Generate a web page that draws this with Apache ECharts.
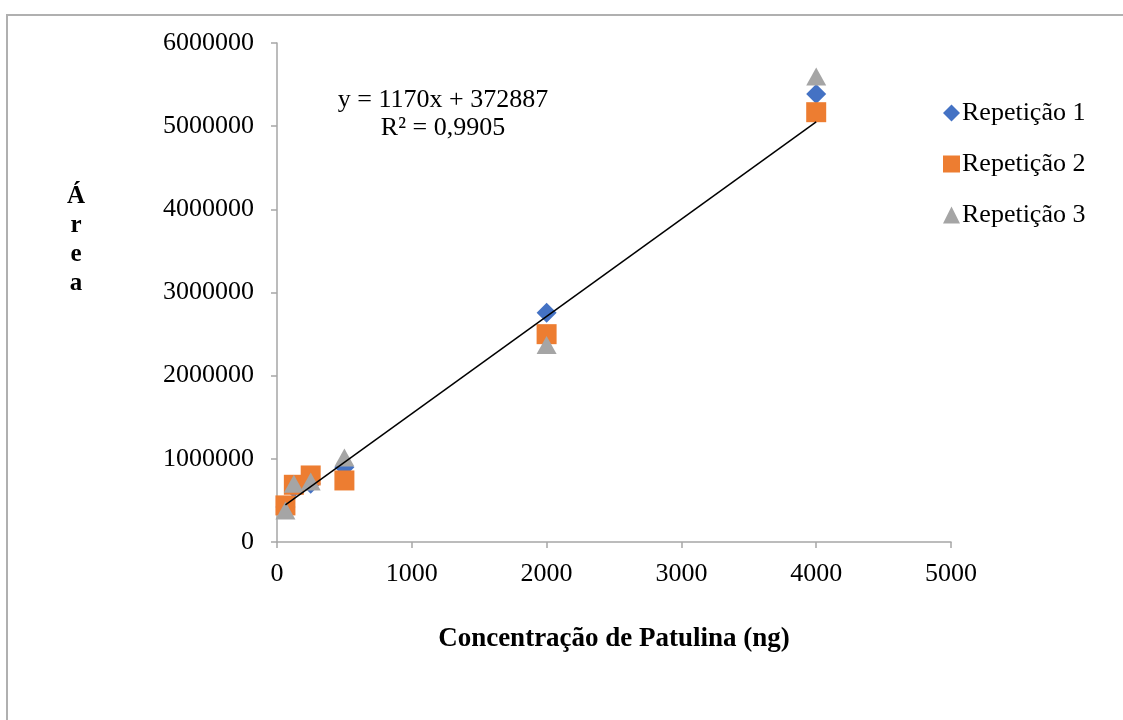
<!DOCTYPE html>
<html>
<head>
<meta charset="utf-8">
<script src="https://cdn.jsdelivr.net/npm/echarts@6/dist/echarts.min.js"></script>
<style>
  html, body { margin: 0; padding: 0; background: #fff; }
  #chart { width: 1123px; height: 720px; }
</style>
</head>
<body>
<div id="chart"></div>
<script>
// concentrations (ng) and areas for each repetition
const conc = [62.5, 125, 250, 500, 2000, 4000];
const rep1 = [420000, 650000, 700000, 900000, 2758000, 5388000];
const rep2 = [440000, 688000, 800000, 740000, 2499000, 5168000];
const rep3 = [380000, 700000, 728000, 1015000, 2370000, 5596000];
const seriesNames = ['Repetição 1', 'Repetição 2', 'Repetição 3'];
// linear trendline as printed on the chart
const slope = 1170;
const intercept = 372887;
const r2Text = 'R² = 0,9905';

const font = 'Liberation Serif, Times New Roman, serif';
const myChart = echarts.init(document.getElementById('chart'));

const pairs = arr => conc.map((c, i) => [c, arr[i]]);
const xMin = Math.min(...conc);
const xMax = Math.max(...conc);
const trend = [[xMin, slope * xMin + intercept], [xMax, slope * xMax + intercept]];

const option = {
  animation: false,
  backgroundColor: '#fff',
  textStyle: { fontFamily: font },
  grid: { left: 277, right: 172, top: 43, bottom: 178 },
  xAxis: {
    type: 'value',
    min: 0,
    max: 5000,
    interval: 1000,
    splitLine: { show: false },
    axisLine: { lineStyle: { color: '#a6a6a6', width: 1.5 } },
    axisTick: { show: true, length: 6, lineStyle: { color: '#a6a6a6', width: 1.5 } },
    axisLabel: { color: '#000', fontSize: 26, fontFamily: font, margin: 19, formatter: v => String(v) },
    name: 'Concentração de Patulina (ng)',
    nameLocation: 'middle',
    nameGap: 84,
    nameTextStyle: { color: '#000', fontSize: 27, fontWeight: 'bold', fontFamily: font }
  },
  yAxis: {
    type: 'value',
    min: 0,
    max: 6000000,
    interval: 1000000,
    splitLine: { show: false },
    axisLine: { show: true, lineStyle: { color: '#a6a6a6', width: 1.5 } },
    axisTick: { show: true, length: 6, lineStyle: { color: '#a6a6a6', width: 1.5 } },
    axisLabel: { color: '#000', fontSize: 26, fontFamily: font, margin: 23, formatter: v => String(v) }
  },
  legend: {
    orient: 'vertical',
    left: 938,
    top: 95,
    itemGap: 25,
    itemWidth: 17,
    itemHeight: 17,
    data: seriesNames,
    textStyle: { color: '#000', fontSize: 26, fontFamily: font, padding: [0, 0, 0, -3] }
  },
  graphic: [
    {
      type: 'text',
      x: 443,
      y: 86,
      style: {
        text: 'y = ' + slope + 'x + ' + intercept + '\n' + r2Text,
        font: '26px ' + font,
        fill: '#000',
        align: 'center',
        lineHeight: 28
      }
    },
    {
      type: 'text',
      x: 76,
      y: 182,
      style: {
        text: 'Á\nr\ne\na',
        font: 'bold 25px ' + font,
        fill: '#000',
        align: 'center',
        lineHeight: 29
      }
    },
    {
      type: 'rect',
      shape: { x: 7, y: 15, width: 1130, height: 720 },
      style: { fill: 'none', stroke: '#b0b0b0', lineWidth: 2 },
      silent: true
    }
  ],
  series: [
    {
      name: seriesNames[0],
      type: 'scatter',
      symbol: 'diamond',
      symbolSize: [20, 20],
      itemStyle: { color: '#4472C4', opacity: 1 },
      data: pairs(rep1)
    },
    {
      name: seriesNames[1],
      type: 'scatter',
      symbol: 'rect',
      symbolSize: 20,
      itemStyle: { color: '#ED7D31', opacity: 1 },
      data: pairs(rep2)
    },
    {
      name: seriesNames[2],
      type: 'scatter',
      symbol: 'triangle',
      symbolSize: [20, 18],
      itemStyle: { color: '#A5A5A5', opacity: 1 },
      data: pairs(rep3)
    },
    {
      name: 'Linear',
      type: 'line',
      symbol: 'none',
      silent: true,
      lineStyle: { color: '#000', width: 1.5 },
      data: trend,
      z: 5
    }
  ]
};
myChart.setOption(option);
</script>
</body>
</html>
